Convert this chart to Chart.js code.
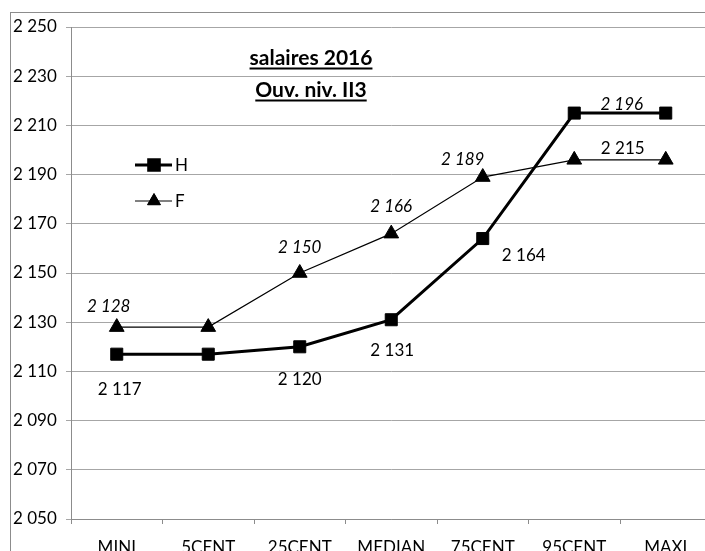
<!DOCTYPE html>
<html>
<head>
<meta charset="utf-8">
<script src="https://cdn.jsdelivr.net/npm/chart.js@4"></script>
<style>
  html, body { margin: 0; padding: 0; background: #fff; overflow: hidden; }
  #frame { position: absolute; left: 10px; top: 12px; width: 740px; height: 580px;
           border-left: 1px solid #8c8c8c; border-top: 1px solid #8c8c8c; }
  #salaires { position: absolute; left: 0; top: 0; width: 720px; height: 560px; }
</style>
</head>
<body>
<div id="frame"><canvas id="salaires" width="720" height="560"></canvas></div>
<script>
// chart data
const categories = ['MINI', '5CENT', '25CENT', 'MEDIAN', '75CENT', '95CENT', 'MAXI'];
const salairesH = [2117, 2117, 2120, 2131, 2164, 2215, 2215];
const salairesF = [2128, 2128, 2150, 2166, 2189, 2196, 2196];
const yMin = 2050;
const yMax = 2250;
const yStep = 20;
const titleLines = ['salaires 2016', 'Ouv. niv. II3'];

// which points carry a value label, and where it sits relative to the point
const labelShiftH = { 0: [3, 35], 2: [0, 33], 3: [1, 31], 4: [41, 17], 6: [-43, 35] };
const labelShiftF = { 0: [-8, -21], 2: [0, -25], 3: [0, -27], 4: [-20, -18], 6: [-44, -55] };

const FONT = 'Lato, "Open Sans", sans-serif';

function formatNombre(v) {
  return String(v).replace(/\B(?=(\d{3})+(?!\d))/g, ' ');
}

// title, legend and value labels
const decorPlugin = {
  id: 'decor',
  afterDatasetsDraw(chart) {
    const ctx = chart.ctx;
    ctx.save();
    ctx.fillStyle = '#000';
    ctx.strokeStyle = '#000';

    // title, bold + underlined
    ctx.font = 'bold 21px ' + FONT;
    ctx.textAlign = 'center';
    ctx.textBaseline = 'middle';
    const tx = 300;
    titleLines.forEach(function (t, i) {
      const ty = 45 + i * 32;
      ctx.fillText(t, tx, ty);
      const w = ctx.measureText(t).width;
      ctx.lineWidth = 2;
      ctx.beginPath();
      ctx.moveTo(tx - w / 2, ty + 10.5);
      ctx.lineTo(tx + w / 2, ty + 10.5);
      ctx.stroke();
    });

    // legend
    const legend = [
      { ds: 0, y: 152, lw: 3 },
      { ds: 1, y: 188, lw: 1 }
    ];
    legend.forEach(function (it) {
      const d = chart.data.datasets[it.ds];
      ctx.lineWidth = it.lw;
      ctx.beginPath();
      ctx.moveTo(124, it.y);
      ctx.lineTo(161, it.y);
      ctx.stroke();
      Chart.helpers.drawPoint(ctx, {
        pointStyle: d.pointStyle, radius: d.pointRadius - 1, borderWidth: 1, rotation: 0
      }, 143, it.y);
      ctx.fill();
      ctx.font = '17px ' + FONT;
      ctx.textAlign = 'left';
      ctx.fillText(d.label, 164, it.y + 1);
    });

    // value labels
    const sets = [
      { meta: chart.getDatasetMeta(0), values: salairesH, shift: labelShiftH, font: '17px ' + FONT },
      { meta: chart.getDatasetMeta(1), values: salairesF, shift: labelShiftF, font: 'italic 17px ' + FONT }
    ];
    ctx.textAlign = 'center';
    ctx.textBaseline = 'middle';
    sets.forEach(function (s) {
      ctx.font = s.font;
      Object.keys(s.shift).forEach(function (k) {
        const p = s.meta.data[k];
        const d = s.shift[k];
        ctx.fillText(formatNombre(s.values[k]), p.x + d[0], p.y + d[1]);
      });
    });
    ctx.restore();
  }
};

new Chart(document.getElementById('salaires'), {
  type: 'line',
  data: {
    labels: categories,
    datasets: [
      {
        label: 'H',
        data: salairesH,
        borderColor: '#000',
        backgroundColor: '#000',
        borderWidth: 3,
        pointStyle: 'rect',
        pointRadius: 8.5,
        pointBorderWidth: 1,
        pointBackgroundColor: '#000',
        tension: 0
      },
      {
        label: 'F',
        data: salairesF,
        borderColor: '#000',
        backgroundColor: '#000',
        borderWidth: 1.2,
        pointStyle: 'triangle',
        pointRadius: 8.5,
        pointBorderWidth: 1,
        pointBackgroundColor: '#000',
        tension: 0
      }
    ]
  },
  options: {
    responsive: false,
    animation: false,
    events: [],
    layout: { padding: { left: 2, top: 14, right: 19.5, bottom: 0 } },
    plugins: {
      legend: { display: false },
      tooltip: { enabled: false },
      title: { display: false }
    },
    scales: {
      x: {
        offset: true,
        grid: { drawOnChartArea: false, drawTicks: true, tickLength: 5, color: '#8c8c8c', offset: true },
        border: { color: '#8c8c8c' },
        ticks: { color: '#000', font: { family: FONT, size: 17 }, padding: 13, maxRotation: 0, autoSkip: false },
        afterFit: function (scale) { scale.height = 54; }
      },
      y: {
        min: yMin,
        max: yMax,
        grid: { color: '#a6a6a6', tickLength: 5 },
        border: { color: '#8c8c8c' },
        ticks: {
          stepSize: yStep,
          color: '#000',
          crossAlign: 'far',
          font: { family: FONT, size: 17 },
          callback: function (v) { return formatNombre(v); }
        },
        afterFit: function (scale) { scale.width = 58; }
      }
    }
  },
  plugins: [decorPlugin]
});
</script>
</body>
</html>
